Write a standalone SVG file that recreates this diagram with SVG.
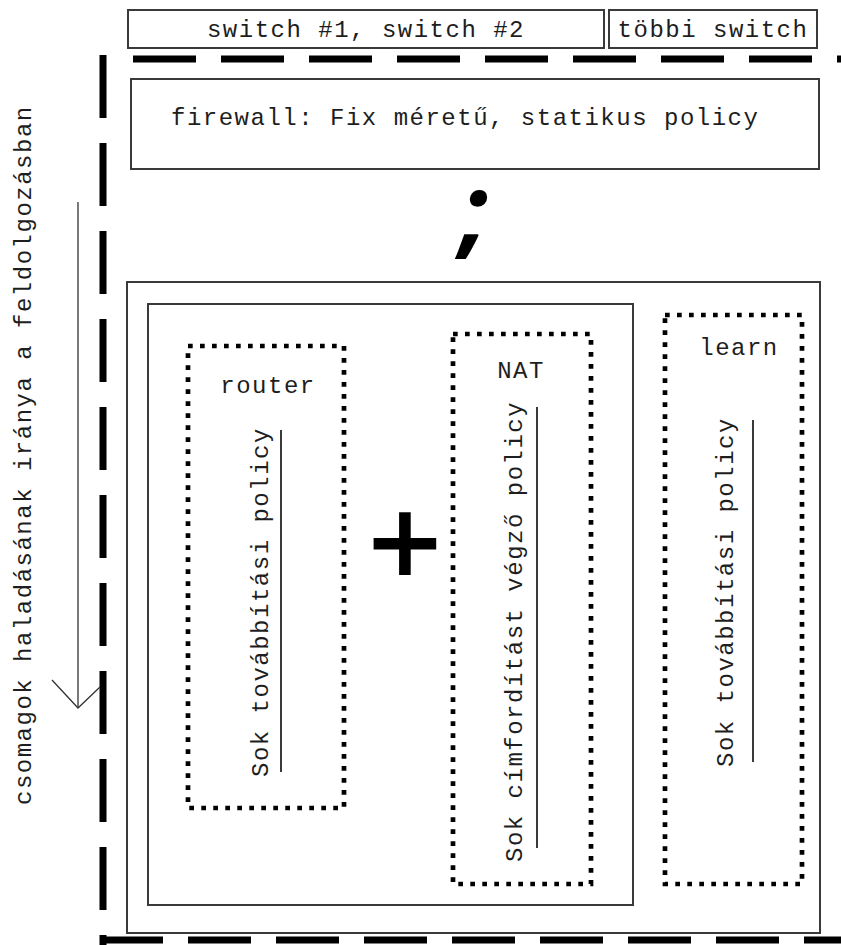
<svg xmlns="http://www.w3.org/2000/svg" width="841" height="945" viewBox="0 0 841 945">
  <style>
    .box { fill: none; stroke: #3a3a3a; stroke-width: 2; }
    .dotted { fill: none; stroke: #000; stroke-width: 4.7; stroke-dasharray: 4.7 7.3; }
    .frame { fill: none; stroke: #000; stroke-width: 7; stroke-dasharray: 63 25; }
    .mono { font-family: "Liberation Mono", "Courier New", monospace; font-size: 24px; letter-spacing: 1.5px; fill: #1e1e1e; }
    .rule { stroke: #3a3a3a; stroke-width: 2; }
    .thin { fill: none; stroke: #333; stroke-width: 1.3; }
  </style>
  <rect width="841" height="945" fill="#fff"/>

  <!-- switch labels on top -->
  <g id="switch12">
    <rect class="box" x="128" y="10" width="476" height="38"/>
    <text class="mono" x="366" y="37" text-anchor="middle">switch #1, switch #2</text>
  </g>
  <g id="tobbi-switch">
    <rect class="box" x="609" y="10" width="208" height="38"/>
    <text class="mono" x="713" y="37" text-anchor="middle">többi switch</text>
  </g>

  <!-- dashed switch boundary -->
  <g id="switch-boundary">
    <path class="frame" d="M133 59 H841"/>
    <path class="frame" d="M103 55 V945"/>
    <path class="frame" d="M100 940 H841"/>
  </g>

  <!-- firewall stage -->
  <g id="firewall">
    <rect class="box" x="131" y="79" width="688" height="90"/>
    <text class="mono" x="171" y="125">firewall: Fix méretű, statikus policy</text>
  </g>

  <!-- sequencing operator -->
  <g id="semicolon">
    <text x="474" y="246" text-anchor="middle" font-family="Open Sans, sans-serif" font-weight="bold" font-style="italic" font-size="100" fill="#000">;</text>
  </g>

  <!-- composed stage -->
  <g id="outer-stage">
    <rect class="box" x="127" y="282" width="693" height="651"/>
  </g>
  <g id="parallel-stage">
    <rect class="box" x="148" y="304" width="485" height="601"/>
  </g>

  <g id="router">
    <rect class="dotted" x="188" y="346" width="156" height="462"/>
    <text class="mono" x="268" y="393" text-anchor="middle">router</text>
    <text class="mono" transform="translate(268,777) rotate(-90)">Sok továbbítási policy</text>
    <line class="rule" x1="281" y1="430" x2="281" y2="772"/>
  </g>

  <g id="plus">
    <text x="405" y="575" text-anchor="middle" font-family="DejaVu Sans, sans-serif" font-weight="bold" font-size="100" fill="#000">+</text>
  </g>

  <g id="nat">
    <rect class="dotted" x="453" y="334" width="138" height="550"/>
    <text class="mono" x="521" y="378" text-anchor="middle">NAT</text>
    <text class="mono" transform="translate(522,862) rotate(-90)">Sok címfordítást végző policy</text>
    <line class="rule" x1="537" y1="407" x2="537" y2="848"/>
  </g>

  <g id="learn">
    <rect class="dotted" x="665" y="315" width="137" height="569"/>
    <text class="mono" x="739" y="355" text-anchor="middle">learn</text>
    <text class="mono" transform="translate(733,767) rotate(-90)">Sok továbbítási policy</text>
    <line class="rule" x1="753" y1="420" x2="753" y2="762"/>
  </g>

  <!-- processing direction -->
  <g id="direction-label">
    <text class="mono" transform="translate(31,805) rotate(-90)">csomagok haladásának iránya a feldolgozásban</text>
  </g>
  <g id="connectors">
    <line class="thin" x1="78" y1="202" x2="78" y2="708"/>
    <polyline class="thin" points="52,680 78,708 100,687"/>
  </g>
</svg>
